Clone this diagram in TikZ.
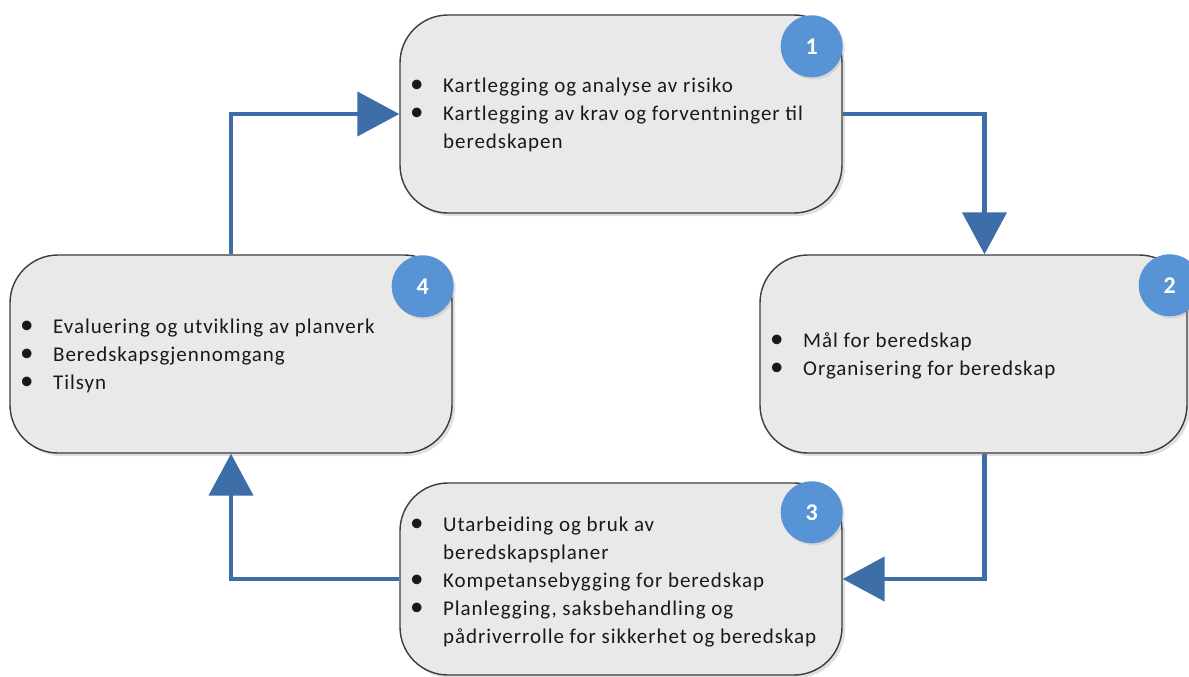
\documentclass[tikz,border=0pt]{standalone}
\usepackage{fontspec}
\setmainfont{Carlito}
\newfontfamily\wordfont[LetterSpace=4.5]{Carlito}
\usepackage{tikz}
\usetikzlibrary{positioning,arrows.meta,shadows,calc}
\definecolor{boxgray}{RGB}{233,233,233}
\definecolor{rimgray}{RGB}{60,60,60}
\definecolor{myblue}{RGB}{62,110,168}
\definecolor{dotblue}{RGB}{88,147,213}
\newcommand\blt{\makebox[34pt][l]{\hspace{1pt}\fontsize{27}{28}\selectfont\textbullet}}

\begin{document}
\begin{tikzpicture}[x=1pt,y=-1pt,
  stepbox/.style={rectangle,rounded corners=48pt,draw=rimgray,line width=1.4pt,fill=boxgray,
    drop shadow={shadow xshift=3pt,shadow yshift=-3pt,opacity=0.25}},
  listtext/.style={anchor=north west,inner sep=0pt,text=black!90,
    font=\wordfont\fontsize{21}{28}\selectfont},
  numdot/.style={circle,fill=dotblue,minimum size=62pt,inner sep=0pt,text=white,
    font=\fontsize{24}{28}\selectfont\bfseries,
    drop shadow={shadow xshift=2pt,shadow yshift=-2pt,opacity=0.2}},
  flow/.style={draw=myblue,line width=4.5pt,-{Triangle[length=42pt,width=44pt]}}
]
\useasboundingbox (0,0) rectangle (1189,677);

% the four steps
\node[stepbox,minimum width=442pt,minimum height=198pt] (b1) at (621,114) {};
\node[stepbox,minimum width=427pt,minimum height=198pt] (b2) at (973.5,354) {};
\node[stepbox,minimum width=442pt,minimum height=192pt] (b3) at (621,579) {};
\node[stepbox,minimum width=442pt,minimum height=198pt] (b4) at (231,354) {};

% the texts
\node[listtext] (t1) at (409,72.4) {\begin{tabular}{@{}l@{}l@{}}
  \blt & Kartlegging og analyse av risiko\\
  \blt & Kartlegging av krav og forventninger til\\
       & beredskapen
  \end{tabular}};
\node[listtext] (t2) at (769,327.4) {\begin{tabular}{@{}l@{}l@{}}
  \blt & Mål for beredskap\\
  \blt & Organisering for beredskap
  \end{tabular}};
\node[listtext] (t3) at (409,511.4) {\begin{tabular}{@{}l@{}l@{}}
  \blt & Utarbeiding og bruk av\\
       & beredskapsplaner\\
  \blt & Kompetansebygging for beredskap\\
  \blt & Planlegging, saksbehandling og\\
       & pådriverrolle for sikkerhet og beredskap
  \end{tabular}};
\node[listtext] (t4) at (19,313.4) {\begin{tabular}{@{}l@{}l@{}}
  \blt & Evaluering og utvikling av planverk\\
  \blt & Beredskapsgjennomgang\\
  \blt & Tilsyn
  \end{tabular}};

% the numbers
\node[numdot] (n1) at ([xshift=-31pt,yshift=-32pt]b1.north east) {1};
\node[numdot] (n2) at ([xshift=-18pt,yshift=-31pt]b2.north east) {2};
\node[numdot] (n3) at ([xshift=-31pt,yshift=-30pt]b3.north east) {3};
\node[numdot] (n4) at ([xshift=-30pt,yshift=-32pt]b4.north east) {4};

% the cycle
\draw[flow] (b4.north) |- (b1.west);
\draw[flow] (b1.east) -| ([xshift=11pt]b2.north);
\draw[flow] ([xshift=11pt]b2.south) |- (b3.east);
\draw[flow] (b3.west) -| (b4.south);
\end{tikzpicture}
\end{document}
